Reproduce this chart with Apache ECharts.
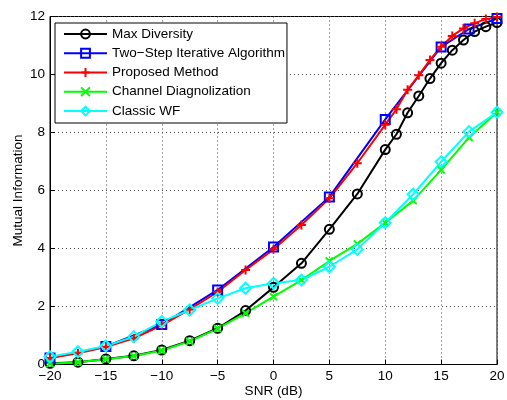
<!DOCTYPE html>
<html>
<head>
<meta charset="utf-8">
<script src="https://cdn.jsdelivr.net/npm/echarts@6/dist/echarts.min.js"></script>
<style>
  html, body { margin: 0; padding: 0; background: #fff; }
  #chart { width: 507px; height: 400px; }
</style>
</head>
<body>
<div id="chart"></div>
<script>
// SNR grid points (dB)
var snrCoarse = [-20, -17.5, -15, -12.5, -10, -7.5, -5, -2.5, 0, 2.5, 5, 7.5, 10];
var snrFine = [11, 12, 13, 14, 15, 16, 17, 18, 19, 20];
var snrFull = [-20, -17.5, -15, -12.5, -10, -7.5, -5, -2.5, 0, 2.5, 5, 7.5, 10, 12.5, 15, 17.5, 20];
var snrTwoStep = [-20, -15, -10, -5, 0, 5, 10, 15, 17.5, 20];

// Mutual information per method
var maxDiversity = [0.04, 0.08, 0.19, 0.30, 0.50, 0.82, 1.25, 1.86, 2.66, 3.49, 4.66, 5.88, 7.41,
                    7.94, 8.68, 9.26, 9.86, 10.39, 10.84, 11.19, 11.48, 11.65, 11.79];
var twoStep = [0.22, 0.62, 1.38, 2.57, 4.05, 5.78, 8.45, 10.95, 11.57, 11.93];
var proposed = [0.22, 0.39, 0.60, 0.90, 1.35, 1.90, 2.50, 3.26, 3.97, 4.81, 5.73, 6.94, 8.27,
                8.80, 9.47, 9.97, 10.50, 10.96, 11.33, 11.59, 11.77, 11.91, 11.98];
var channelDiag = [0.03, 0.08, 0.18, 0.29, 0.48, 0.80, 1.24, 1.77, 2.34, 2.91, 3.57, 4.16, 4.89,
                   5.65, 6.71, 7.83, 8.70];
var classicWF = [0.27, 0.44, 0.64, 0.96, 1.48, 1.88, 2.28, 2.63, 2.80, 2.91, 3.37, 3.97, 4.89,
                 5.87, 6.99, 8.03, 8.70];

var seriesNames = ['Max Diversity', 'Two\u2212Step Iterative Algorithm', 'Proposed Method',
                   'Channel Diagnolization', 'Classic WF'];

var xTicks = { min: -20, max: 20, step: 5 };
var yTicks = { min: 0, max: 12, step: 2 };

function pairs(xs, ys) {
  return xs.map(function (x, i) { return [x, ys[i]]; });
}

var FONT = 'Liberation Sans, Arial, Helvetica, sans-serif';
var ringPath = 'path://M0,5A5,5 0 1,1 10,5A5,5 0 1,1 0,5Z';
var plusPath = 'path://M0,5L10,5M5,0L5,10';
var crossPath = 'path://M0,0L10,10M0,10L10,0';

function lineSeries(name, data, color, symbol, size) {
  return {
    name: name,
    type: 'line',
    data: data,
    symbol: symbol,
    symbolSize: size,
    showAllSymbol: true,
    lineStyle: { color: color, width: 2 },
    itemStyle: { color: 'rgba(0,0,0,0)', borderColor: color, borderWidth: 2 },
    emphasis: { disabled: true },
    animation: false
  };
}

function minusFmt(v) { return String(v).replace('-', '\u2212'); }

var chart = echarts.init(document.getElementById('chart'), null, { renderer: 'canvas' });
chart.setOption({
  backgroundColor: '#fff',
  animation: false,
  grid: {
    left: 50, right: 10, top: 16.5, bottom: 35.5,
    containLabel: false, outerBoundsMode: 'none',
    show: true, borderColor: '#000', borderWidth: 1
  },
  legend: {
    left: 55, top: 23,
    orient: 'vertical',
    backgroundColor: '#fff',
    borderColor: '#000', borderWidth: 1,
    padding: [4, 2, 5, 8],
    itemWidth: 43, itemHeight: 11, itemGap: 5.25,
    textStyle: { fontFamily: FONT, fontSize: 13.5, color: '#000', lineHeight: 14 },
    data: seriesNames
  },
  xAxis: {
    type: 'value', min: xTicks.min, max: xTicks.max, interval: xTicks.step,
    name: 'SNR (dB)', nameLocation: 'middle', nameGap: 20, nameMoveOverlap: false,
    nameTextStyle: { fontFamily: FONT, fontSize: 13.5, color: '#000' },
    axisLine: { show: true, onZero: false, lineStyle: { color: '#000', width: 1 } },
    axisTick: { show: true, inside: true, length: 5, lineStyle: { color: '#000' } },
    axisLabel: { fontFamily: FONT, fontSize: 13.5, color: '#000', margin: 5, formatter: minusFmt },
    splitLine: { show: true, lineStyle: { color: '#444', type: [1, 3], width: 1 } }
  },
  yAxis: {
    type: 'value', min: yTicks.min, max: yTicks.max, interval: yTicks.step,
    name: 'Mutual Information', nameLocation: 'middle', nameGap: 25, nameMoveOverlap: false,
    nameTextStyle: { fontFamily: FONT, fontSize: 13.5, color: '#000' },
    axisLine: { show: true, onZero: false, lineStyle: { color: '#000', width: 1 } },
    axisTick: { show: true, inside: true, length: 5, lineStyle: { color: '#000' } },
    axisLabel: { fontFamily: FONT, fontSize: 13.5, color: '#000', margin: 5 },
    splitLine: { show: true, lineStyle: { color: '#444', type: [1, 3], width: 1 } }
  },
  series: [
    lineSeries(seriesNames[0], pairs(snrCoarse.concat(snrFine), maxDiversity), '#000000', ringPath, 9),
    lineSeries(seriesNames[1], pairs(snrTwoStep, twoStep), '#0000ff', 'rect', 9),
    lineSeries(seriesNames[2], pairs(snrCoarse.concat(snrFine), proposed), '#ff0000', plusPath, 9),
    lineSeries(seriesNames[3], pairs(snrFull, channelDiag), '#00ff00', crossPath, 7),
    lineSeries(seriesNames[4], pairs(snrFull, classicWF), '#00ffff', 'diamond', 11)
  ]
});
</script>
</body>
</html>
